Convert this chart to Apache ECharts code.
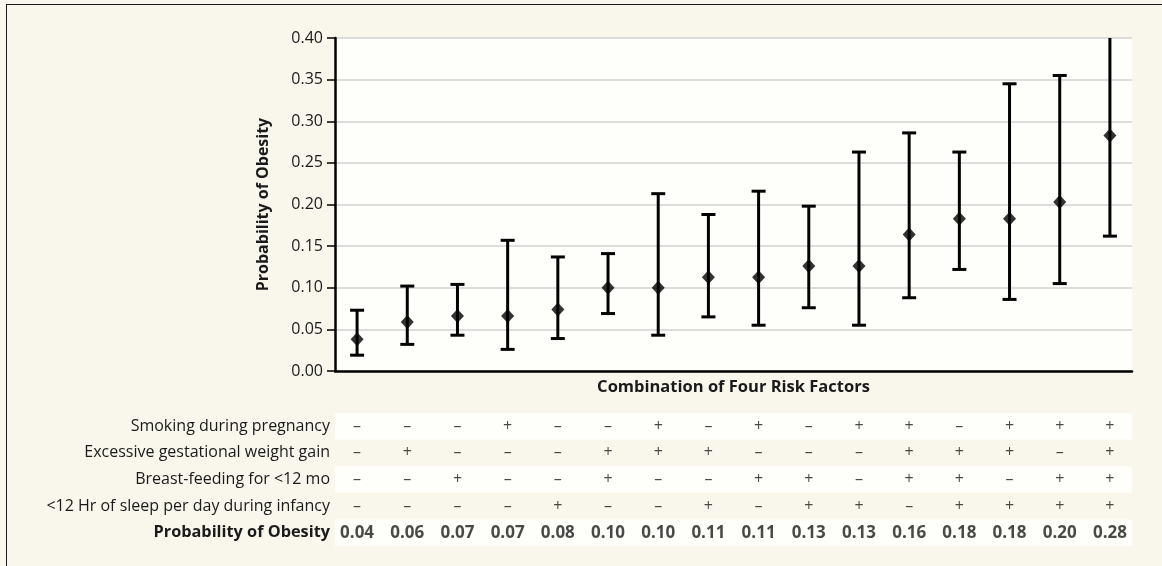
<!DOCTYPE html>
<html>
<head>
<meta charset="utf-8">
<script src="https://cdn.jsdelivr.net/npm/echarts@6/dist/echarts.min.js"></script>
<style>
html, body { margin: 0; padding: 0; background: #f9f7ec; }
#wrap { position: relative; width: 1162px; height: 566px; overflow: hidden; }
#chart { position: absolute; left: 0; top: 0; width: 1162px; height: 566px; }
#frame { position: absolute; left: 6px; top: 4px; right: -10px; bottom: -10px;
  border-top: 1.5px solid #1a1a1a; border-left: 1.5px solid #1a1a1a; pointer-events: none; }
</style>
</head>
<body>
<div id="wrap"><div id="chart"></div><div id="frame"></div></div>
<script>
// ---- data ----
const categories = ['1','2','3','4','5','6','7','8','9','10','11','12','13','14','15','16'];
const estimate = [0.038, 0.059, 0.066, 0.066, 0.074, 0.100, 0.100, 0.1125, 0.1125, 0.126, 0.126, 0.164, 0.183, 0.183, 0.203, 0.283];
const lower    = [0.019, 0.032, 0.043, 0.026, 0.039, 0.069, 0.043, 0.065, 0.055, 0.076, 0.055, 0.088, 0.122, 0.086, 0.105, 0.162];
const upper    = [0.073, 0.102, 0.104, 0.157, 0.137, 0.141, 0.213, 0.188, 0.216, 0.198, 0.263, 0.286, 0.263, 0.345, 0.355, 0.430];
const yTicks = [0, 0.05, 0.10, 0.15, 0.20, 0.25, 0.30, 0.35, 0.40];

const rowLabels = ['Smoking during pregnancy', 'Excessive gestational weight gain', 'Breast-feeding for <12 mo', '<12 Hr of sleep per day during infancy', 'Probability of Obesity'];
const smoking   = ['-','-','-','+','-','-','+','-','+','-','+','+','-','+','+','+'];
const gestGain  = ['-','+','-','-','-','+','+','+','-','-','-','+','+','+','-','+'];
const breastFed = ['-','-','+','-','-','+','-','-','+','+','-','+','+','-','+','+'];
const sleepLess = ['-','-','-','-','+','-','-','+','-','+','+','-','+','+','+','+'];
const probLabels = ['0.04','0.06','0.07','0.07','0.08','0.10','0.10','0.11','0.11','0.13','0.13','0.16','0.18','0.18','0.20','0.28'];

// ---- build ----
const FONT = '"Open Sans", "Noto Sans", sans-serif';
const INK = '#1a1a1a';
const factorRows = [smoking, gestGain, breastFed, sleepLess];
const tableData = [];
factorRows.forEach((row, r) => row.forEach((s, c) => {
  tableData.push({ value: [c, r], label: { formatter: s === '+' ? '+' : '\u2013' } });
}));
probLabels.forEach((p, c) => {
  tableData.push({ value: [c, 4], label: { formatter: p, fontWeight: 'bold', fontSize: 17 } });
});

const errData = categories.map((_, i) => [i, lower[i], upper[i]]);
const pointData = categories.map((_, i) => [i, estimate[i]]);

const chart = echarts.init(document.getElementById('chart'), null, { renderer: 'canvas' });
chart.setOption({
  backgroundColor: '#f9f7ec',
  animation: false,
  textStyle: { fontFamily: FONT, color: INK },
  grid: [
    { left: 335, right: 30, top: 38, bottom: 195, show: true, backgroundColor: '#fefefa', borderWidth: 0 },
    { left: 335, right: 30, top: 413, height: 133, show: false }
  ],
  xAxis: [
    { type: 'value', gridIndex: 0, min: -0.44, max: 15.44,
      name: 'Combination of Four Risk Factors', nameLocation: 'middle', nameGap: 8,
      nameTextStyle: { fontFamily: FONT, fontWeight: 'bold', fontSize: 16.5, color: INK },
      axisLine: { show: true, onZero: false, lineStyle: { color: '#000', width: 2.5 } },
      axisTick: { show: false }, axisLabel: { show: false }, splitLine: { show: false } },
    { type: 'value', gridIndex: 1, min: -0.44, max: 15.44, show: false }
  ],
  yAxis: [
    { type: 'value', gridIndex: 0, min: 0, max: 0.40, interval: 0.05,
      name: 'Probability of Obesity', nameLocation: 'middle', nameGap: 64,
      nameTextStyle: { fontFamily: FONT, fontWeight: 'bold', fontSize: 16, color: INK },
      axisLine: { show: true, onZero: false, lineStyle: { color: '#000', width: 2.5 } },
      axisTick: { show: true, length: 8, lineStyle: { color: '#000', width: 1.5 } },
      axisLabel: { margin: 12, fontSize: 16, fontFamily: FONT, color: INK,
        formatter: v => { const t = yTicks.find(k => Math.abs(k - v) < 1e-9); return (t === undefined ? v : t).toFixed(2); } },
      splitLine: { show: true, lineStyle: { color: '#d2d2d4', width: 1.5 } } },
    { type: 'category', gridIndex: 1, data: rowLabels, inverse: true,
      axisLine: { show: false }, axisTick: { show: false },
      axisLabel: { margin: 5, fontSize: 16, fontFamily: FONT, color: INK,
        formatter: (v, i) => i === 4 ? '{b|' + v + '}' : v,
        rich: { b: { fontWeight: 'bold', fontSize: 16.3, fontFamily: FONT, color: INK } } },
      splitLine: { show: false },
      splitArea: { show: true, areaStyle: { color: ['#fefefa', 'rgba(0,0,0,0)'] } } }
  ],
  series: [
    { type: 'custom', xAxisIndex: 0, yAxisIndex: 0, clip: true, z: 3,
      data: errData,
      renderItem: (params, api) => {
        const x = api.value(0);
        const lo = api.coord([x, api.value(1)]);
        const hi = api.coord([x, api.value(2)]);
        const hw = 7;
        const st = { stroke: '#000', lineWidth: 3 };
        return { type: 'group', children: [
          { type: 'line', shape: { x1: lo[0], y1: lo[1], x2: hi[0], y2: hi[1] }, style: st },
          { type: 'line', shape: { x1: lo[0] - hw, y1: lo[1], x2: lo[0] + hw, y2: lo[1] }, style: st },
          { type: 'line', shape: { x1: hi[0] - hw, y1: hi[1], x2: hi[0] + hw, y2: hi[1] }, style: st }
        ]};
      } },
    { type: 'scatter', xAxisIndex: 0, yAxisIndex: 0, z: 5, data: pointData,
      symbol: 'diamond', symbolSize: [13, 14], itemStyle: { color: '#000' } },
    { type: 'scatter', xAxisIndex: 1, yAxisIndex: 1, data: tableData,
      symbolSize: 1, itemStyle: { color: 'rgba(0,0,0,0)' },
      label: { show: true, position: 'inside', fontSize: 16, fontFamily: FONT, color: INK } }
  ]
});
</script>
</body>
</html>
